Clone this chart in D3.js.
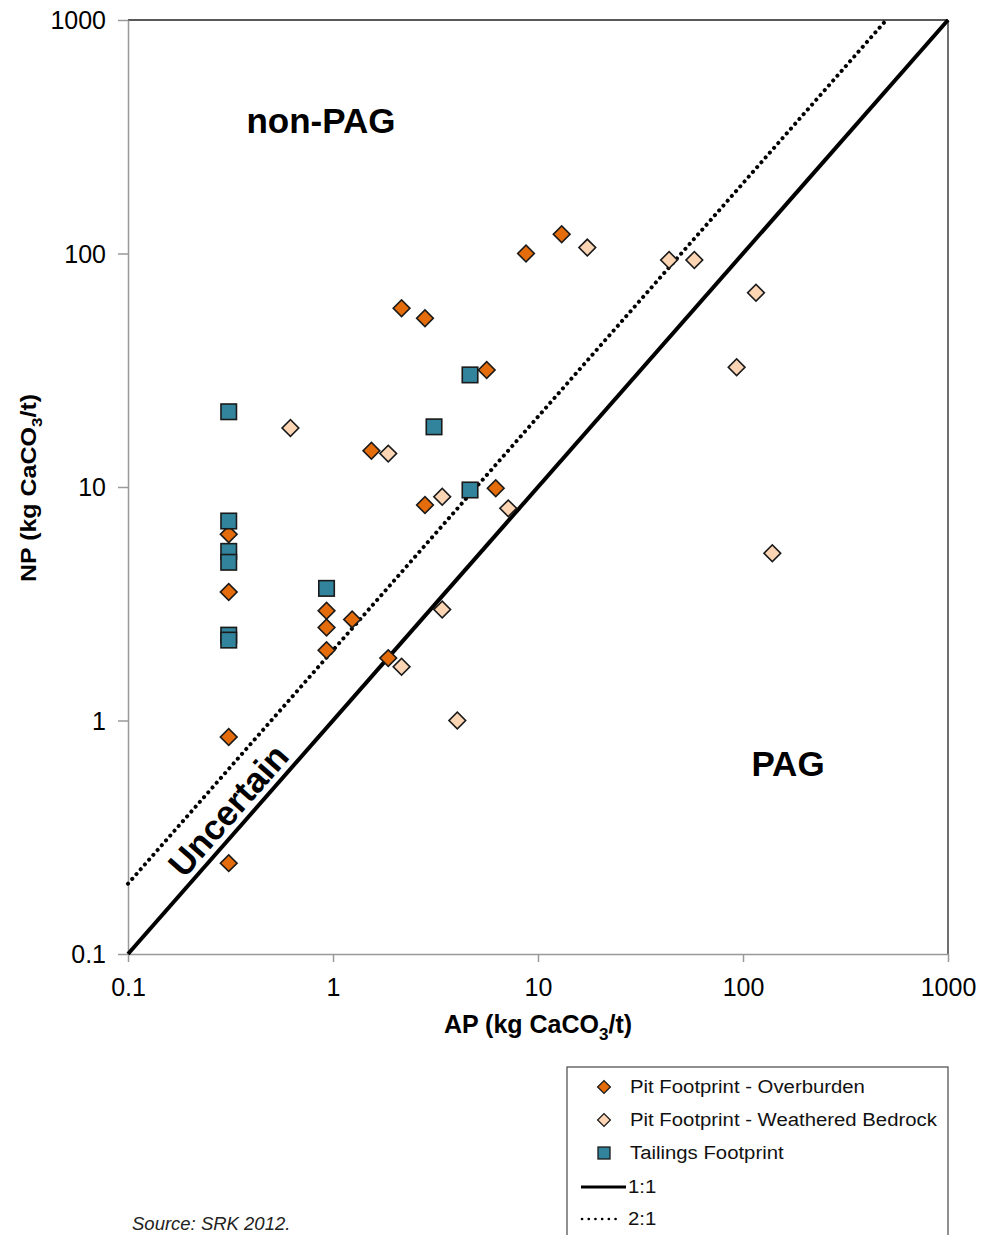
<!DOCTYPE html>
<html><head><meta charset="utf-8">
<script src="https://cdn.jsdelivr.net/npm/d3@7"></script>
<style>body{margin:0;background:#fff}svg{display:block}text{font-family:"Liberation Sans",Arial,sans-serif}</style>
</head><body>
<script>
// Data (AP, NP in kg CaCO3/t)
const overburdenAP = [0.31,0.31,0.31,0.31,0.93,0.93,0.93,1.24,1.54,2.16,2.81,5.62,6.22,2.81,1.86,8.74,13.05];
const overburdenNP = [6.27,3.55,0.85,0.245,2.95,2.50,2.00,2.71,14.3,58.3,52.8,31.7,9.87,8.37,1.85,100,121];
const bedrockAP = [0.62,1.86,3.41,7.16,3.41,2.16,4.04,17.4,43.6,57.9,115.7,93.1,139];
const bedrockNP = [17.9,13.9,9.09,8.1,2.99,1.70,1.00,106,93.8,93.8,67.9,32.6,5.2];
const tailingsAP = [0.31,0.31,0.31,0.31,0.31,0.31,0.93,4.66,3.11,4.66];
const tailingsNP = [21.0,7.15,5.3,4.76,2.32,2.21,3.68,30.2,18.1,9.71];
const tickValues = [0.1,1,10,100,1000];
const tickLabels = ["0.1","1","10","100","1000"];
const legendLabels = ["Pit Footprint - Overburden","Pit Footprint - Weathered Bedrock","Tailings Footprint","1:1","2:1"];
const line11 = [[0.1,0.1],[1000,1000]];
const line21 = [[0.1,0.2],[500,1000]];

const W=982,H=1235;
const svg=d3.select("body").append("svg").attr("width",W).attr("height",H);
const x=d3.scaleLog().domain([0.1,1000]).range([128,948]);
const y=d3.scaleLog().domain([0.1,1000]).range([954,20]);
const C={ob:"#E46C0A",wb:"#FCD5B5",tf:"#31849B"};

// frame top/right
svg.append("line").attr("x1",128).attr("x2",948).attr("y1",20).attr("y2",20).attr("stroke","#222").attr("stroke-width",1.3);
svg.append("line").attr("x1",948).attr("x2",948).attr("y1",20).attr("y2",954).attr("stroke","#222").attr("stroke-width",1.3);

// axes
const xa=svg.append("g").attr("transform","translate(0,954)")
  .call(d3.axisBottom(x).tickValues(tickValues).tickFormat((d,i)=>tickLabels[i]).tickSize(8).tickSizeOuter(0));
const ya=svg.append("g").attr("transform","translate(128,0)")
  .call(d3.axisLeft(y).tickValues(tickValues).tickFormat((d,i)=>tickLabels[i]).tickSize(10).tickSizeOuter(0));
[xa,ya].forEach(g=>{g.select(".domain").attr("stroke","#999").attr("stroke-width",1.5);
  g.selectAll(".tick line").attr("stroke","#999").attr("stroke-width",1.5);
  g.selectAll("text").attr("fill","#000").attr("font-size",25).attr("font-family","'Liberation Sans',Arial,sans-serif");});
xa.selectAll("text").attr("dy",0).attr("y",42);
ya.selectAll("text").attr("x",-22).attr("dy","0.35em");

// ratio lines
const lg=d3.line().x(d=>x(d[0])).y(d=>y(d[1]));
svg.append("path").attr("d",lg(line11)).attr("stroke","#000").attr("stroke-width",4).attr("fill","none");
svg.append("path").attr("d",lg(line21)).attr("stroke","#000").attr("stroke-width",4).attr("fill","none")
  .attr("stroke-dasharray","0.1 6.3").attr("stroke-linecap","round");

// region labels
svg.append("text").attr("x",321).attr("y",120).attr("text-anchor","middle").attr("font-size",35).attr("font-weight","bold").attr("dominant-baseline","central").text("non-PAG");
svg.append("text").attr("x",788).attr("y",763).attr("text-anchor","middle").attr("font-size",35).attr("font-weight","bold").attr("dominant-baseline","central").text("PAG");
const ang=-Math.atan((y(0.1)-y(1))/(x(1)-x(0.1)))*180/Math.PI;
svg.append("text").attr("transform",`translate(228,810) rotate(${ang})`).attr("text-anchor","middle").attr("font-size",35).attr("font-weight","bold").attr("dominant-baseline","central").text("Uncertain");

// markers
const dsize=11.8, ssize=15.5;
function diamonds(ax,ny,fill){
  svg.append("g").selectAll("rect").data(ax.map((a,i)=>[a,ny[i]])).join("rect")
   .attr("x",-dsize/2).attr("y",-dsize/2).attr("width",dsize).attr("height",dsize)
   .attr("transform",d=>`translate(${x(d[0])},${y(d[1])}) rotate(45)`)
   .attr("fill",fill).attr("stroke","#1a1a1a").attr("stroke-width",1.6);
}
diamonds(overburdenAP,overburdenNP,C.ob);
diamonds(bedrockAP,bedrockNP,C.wb);
svg.append("g").selectAll("rect").data(tailingsAP.map((a,i)=>[a,tailingsNP[i]])).join("rect")
  .attr("x",d=>x(d[0])-ssize/2).attr("y",d=>y(d[1])-ssize/2).attr("width",ssize).attr("height",ssize)
  .attr("fill",C.tf).attr("stroke","#1a1a1a").attr("stroke-width",1.6);

// axis titles
const xt=svg.append("text").attr("x",538).attr("y",1033).attr("text-anchor","middle").attr("font-size",25).attr("font-weight","bold");
xt.append("tspan").text("AP (kg CaCO");xt.append("tspan").attr("font-size",17).attr("dy",7).text("3");xt.append("tspan").attr("dy",-7).text("/t)");
const yt=svg.append("text").attr("transform","translate(36,488) rotate(-90) scale(1,0.85)").attr("text-anchor","middle").attr("font-size",25).attr("font-weight","bold");
yt.append("tspan").text("NP (kg CaCO");yt.append("tspan").attr("font-size",17).attr("dy",7).text("3");yt.append("tspan").attr("dy",-7).text("/t)");

// legend
const L=svg.append("g");
L.append("rect").attr("x",567).attr("y",1067).attr("width",381).attr("height",190).attr("fill","#fff").attr("stroke","#555").attr("stroke-width",1.3);
const rows=[1087,1120,1153,1187,1219];
const lx=604;
[C.ob,C.wb].forEach((c,i)=>{L.append("rect").attr("x",-4.5).attr("y",-4.5).attr("width",9).attr("height",9)
  .attr("transform",`translate(${lx},${rows[i]}) rotate(45)`).attr("fill",c).attr("stroke","#1a1a1a").attr("stroke-width",1.3);});
L.append("rect").attr("x",lx-6).attr("y",rows[2]-6).attr("width",12).attr("height",12).attr("fill",C.tf).attr("stroke","#1a1a1a").attr("stroke-width",1.3);
L.append("line").attr("x1",581).attr("x2",626).attr("y1",rows[3]).attr("y2",rows[3]).attr("stroke","#000").attr("stroke-width",3);
L.append("line").attr("x1",582).attr("x2",622).attr("y1",rows[4]).attr("y2",rows[4]).attr("stroke","#000").attr("stroke-width",2.6).attr("stroke-dasharray","0.1 6.6").attr("stroke-linecap","round");
legendLabels.forEach((t,i)=>{L.append("text").attr("transform",`translate(${i<3?630:628},${rows[i]}) scale(1.13,1)`).attr("dy","0.35em").attr("font-size",18).attr("fill","#111").text(t);});

// source
svg.append("text").attr("x",132).attr("y",1230).attr("font-size",18.5).attr("font-style","italic").attr("fill","#222").text("Source: SRK 2012.");
</script>
</body></html>
